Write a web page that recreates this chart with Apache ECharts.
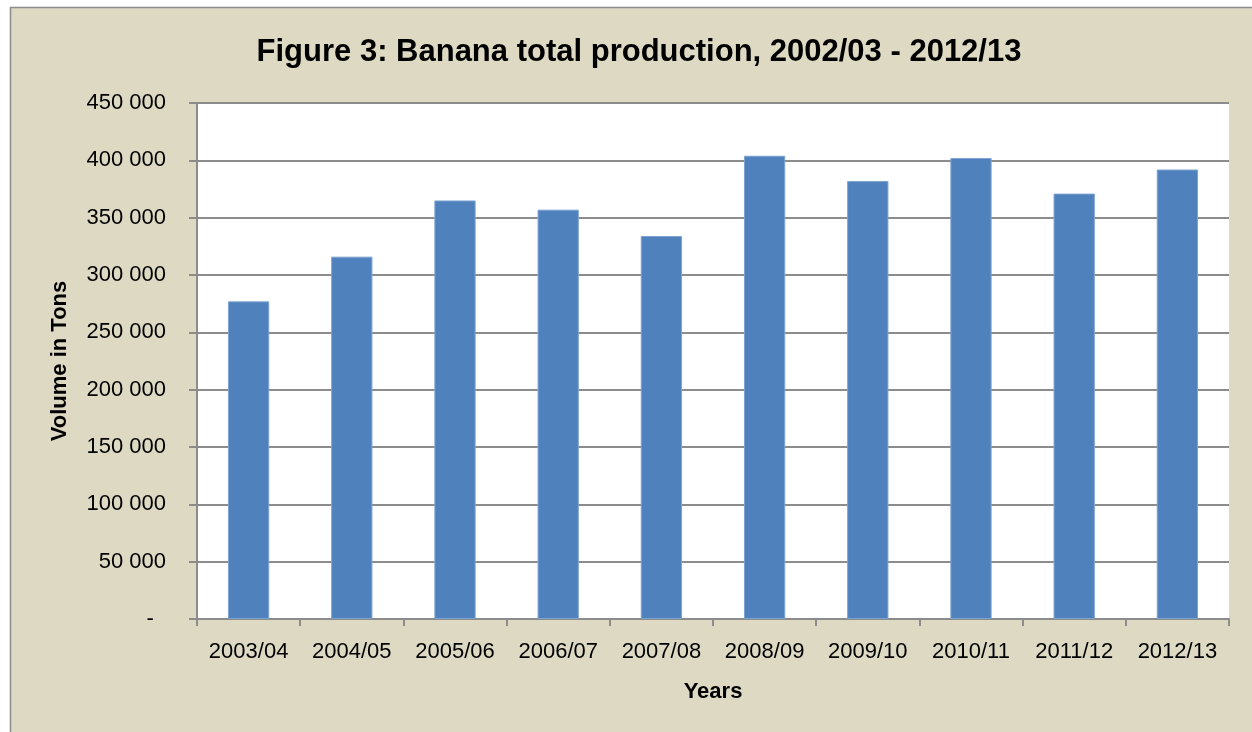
<!DOCTYPE html>
<html>
<head>
<meta charset="utf-8">
<script src="https://cdn.jsdelivr.net/npm/echarts@6/dist/echarts.min.js"></script>
<style>
html,body{margin:0;padding:0;background:#fff;}
#c{width:1252px;height:732px;}
</style>
</head>
<body>
<div id="c"></div>
<script>
const categories = ['2003/04','2004/05','2005/06','2006/07','2007/08','2008/09','2009/10','2010/11','2011/12','2012/13'];
const production = [277000, 316000, 365000, 357000, 334000, 404000, 382000, 402000, 371000, 392000];
const yTicks = [0, 50000, 100000, 150000, 200000, 250000, 300000, 350000, 400000, 450000];

const FONT = "'Liberation Sans Narrow', 'Arial Narrow', 'Liberation Sans', Arial, sans-serif";
const chart = echarts.init(document.getElementById('c'));
function fmt(v){
  if (v === 0) return '-  ';
  return String(v).replace(/\B(?=(\d{3})+(?!\d))/g, ' ');
}
chart.setOption({
  backgroundColor: '#ffffff',
  animation: false,
  graphic: [{
    type: 'rect', z: -10, silent: true,
    shape: {x: 10.5, y: 7.5, width: 1300, height: 800},
    style: {fill: '#DDD9C3', stroke: '#8c8c8c', lineWidth: 1.5}
  }],
  title: {
    text: 'Figure 3: Banana total production, 2002/03 - 2012/13',
    left: 634, top: 32, textAlign: 'center',
    textStyle: {fontFamily: FONT, fontWeight: 'bold', fontSize: 31, color: '#000'}
  },
  grid: {left: 197, top: 103, right: 23, bottom: 113, containLabel: false,
         show: true, backgroundColor: '#ffffff', borderWidth: 0},
  xAxis: {
    type: 'category', data: categories,
    name: 'Years', nameLocation: 'middle', nameGap: 62,
    nameTextStyle: {fontFamily: FONT, fontWeight: 'bold', fontSize: 22, color: '#000'},
    axisLine: {lineStyle: {color: '#8c8c8c', width: 2}},
    axisTick: {show: true, length: 7, lineStyle: {color: '#8c8c8c', width: 2}},
    axisLabel: {fontFamily: FONT, fontSize: 22, color: '#000', margin: 22, interval: 0}
  },
  yAxis: {
    type: 'value', min: 0, max: 450000, interval: 50000,
    name: 'Volume in Tons', nameLocation: 'middle', nameGap: 126,
    nameTextStyle: {fontFamily: FONT, fontWeight: 'bold', fontSize: 22, color: '#000'},
    axisLine: {show: true, lineStyle: {color: '#8c8c8c', width: 2}},
    axisTick: {show: true, length: 8, lineStyle: {color: '#8c8c8c', width: 2}},
    splitLine: {show: true, lineStyle: {color: '#8c8c8c', width: 2}},
    axisLabel: {fontFamily: FONT, fontSize: 22, color: '#000', margin: 31, formatter: fmt}
  },
  series: [{
    type: 'bar', data: production, barCategoryGap: '60%',
    itemStyle: {color: '#4F81BD', borderColor: '#7FA3D1', borderWidth: 1}
  }]
});
</script>
</body>
</html>
